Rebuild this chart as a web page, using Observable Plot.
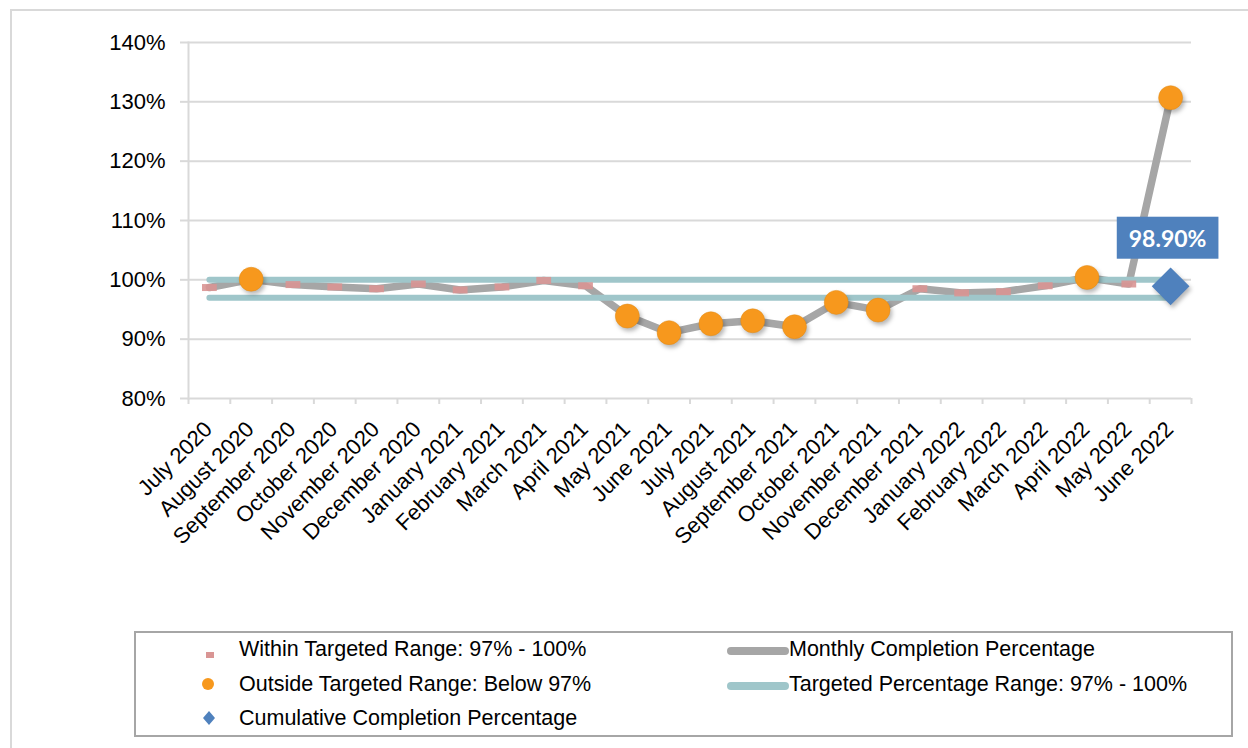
<!DOCTYPE html>
<html><head><meta charset="utf-8">
<script src="https://cdn.jsdelivr.net/npm/d3@7"></script>
<script src="https://cdn.jsdelivr.net/npm/@observablehq/plot@0.6"></script>
<style>
body{margin:0;background:#fff;font-family:"Liberation Sans",Arial,sans-serif;}
#wrap{position:relative;width:1248px;height:748px;overflow:hidden;background:#fff;}
#frame{position:absolute;left:10px;top:9px;width:1300px;height:800px;border:2px solid #d9d9d9;box-sizing:border-box;}
#chart{position:absolute;left:0;top:0;}
#legend{position:absolute;left:134px;top:631px;width:1099px;height:106px;border:2px solid #a6a6a6;box-sizing:border-box;}
.item{position:absolute;font-size:21.5px;color:#000;white-space:nowrap;line-height:24px;height:24px;}
.sw{position:absolute;}
</style></head><body>
<div id="wrap"><div id="frame"></div><div id="chart"></div><div id="legend"></div></div>
<script>
const months = ["July 2020","August 2020","September 2020","October 2020","November 2020","December 2020",
  "January 2021","February 2021","March 2021","April 2021","May 2021","June 2021","July 2021","August 2021",
  "September 2021","October 2021","November 2021","December 2021","January 2022","February 2022","March 2022",
  "April 2022","May 2022","June 2022"];
const monthly = [98.7,100.1,99.2,98.8,98.5,99.3,98.3,98.8,99.9,99.0,93.9,91.1,92.6,93.1,92.1,96.2,94.9,98.5,97.8,98.0,99.0,100.4,99.3,130.7];
const targetLow = 97;
const targetHigh = 100;
const cumulativeMonth = "June 2022";
const cumulativeValue = 98.9;
const cumulativeLabel = "98.90%";
const yTicks = [80,90,100,110,120,130,140];
const legendWithin = "Within Targeted Range: 97% - 100%";
const legendOutside = "Outside Targeted Range: Below 97%";
const legendCumulative = "Cumulative Completion Percentage";
const legendMonthly = "Monthly Completion Percentage";
const legendTarget = "Targeted Percentage Range: 97% - 100%";

const C = {gray:"#a6a6a6", teal:"#9fc6ca", pink:"#d99594", orange:"#f7981d", blue:"#4f81bd", grid:"#d9d9d9"};

const rows = months.map((m,i)=>({month:m, value:monthly[i]}));
const within = rows.filter(d=>d.value>=targetLow && d.value<=targetHigh);
const outside = rows.filter(d=>!(d.value>=targetLow && d.value<=targetHigh));
const targetRows = [targetLow, targetHigh].flatMap(t=>months.map(m=>({month:m, value:t, band:t})));
const cumulative = [{month:cumulativeMonth, value:cumulativeValue, label:cumulativeLabel}];

const W = 1248, H = 610, mL = 188, mR = 57, mT = 42, mB = 212;
const half = (W - mL - mR) / months.length / 2;

const plot = Plot.plot({
  width: W, height: H,
  marginLeft: mL, marginRight: mR, marginTop: mT, marginBottom: mB,
  style: {fontFamily: "'Liberation Sans', Arial, sans-serif", fontSize: "22px", color: "#000", background: "transparent"},
  x: {type: "band", domain: months, padding: 0, round: false, label: null},
  y: {domain: [80, 140], label: null},
  marks: [
    Plot.gridY(yTicks, {stroke: C.grid, strokeOpacity: 1, strokeWidth: 2}),
    Plot.frame({anchor: "left", stroke: C.grid, strokeWidth: 2}),
    Plot.axisY(yTicks, {tickSize: 8, tickPadding: 15, stroke: C.grid, strokeWidth: 2, fill: "#000", tickFormat: d => d + "%", label: null}),
    Plot.axisX({tickSize: 6, stroke: C.grid, strokeWidth: 2, tickFormat: () => "", dx: -half, label: null}),
    Plot.axisX([months[months.length-1]], {tickSize: 6, stroke: C.grid, strokeWidth: 2, tickFormat: () => "", dx: half, label: null}),
    Plot.axisX({tickSize: 0, tickRotate: -45, tickPadding: 27, fill: "#000", dx: -1, label: null}),
    Plot.line(rows, {x: "month", y: "value", stroke: C.gray, strokeWidth: 7.5, strokeLinecap: "round", strokeLinejoin: "round"}),
    Plot.line(targetRows, {x: "month", y: "value", z: "band", stroke: C.teal, strokeWidth: 6, strokeLinecap: "round"}),
    Plot.tickY(within, {x: "month", y: "value", stroke: C.pink, strokeWidth: 7, insetLeft: 14, insetRight: 13, strokeOpacity: 0.9}),
    Plot.dot(outside, {x: "month", y: "value", r: 12, fill: C.orange, stroke: "#e08a16", strokeWidth: 0.5}),
    Plot.dot(cumulative, {x: "month", y: "value", symbol: "diamond2", r: 17, fill: C.blue}),
    Plot.text(cumulative, {x: "month", y: "value", text: "label", dx: -3, dy: -47, fill: "#fff",
      fontFamily: "Lato, 'Open Sans', sans-serif", fontWeight: "bold", fontSize: 23})
  ]
});
document.getElementById("chart").appendChild(plot);

// shadows for markers
d3.select(plot).selectAll('g[aria-label="dot"]').style("filter", "drop-shadow(2px 3px 2px rgba(0,0,0,0.28))");

// label box behind data label
d3.select(plot).selectAll("text").filter(function(){ return this.textContent === cumulativeLabel; }).each(function(){
  const b = this.getBBox();
  const padX = 12, padY = 7;
  const r = document.createElementNS("http://www.w3.org/2000/svg", "rect");
  r.setAttribute("x", b.x - padX); r.setAttribute("y", b.y - padY);
  r.setAttribute("width", b.width + 2*padX); r.setAttribute("height", b.height + 2*padY);
  r.setAttribute("fill", C.blue);
  const t = this.getAttribute("transform"); if (t) r.setAttribute("transform", t);
  this.parentNode.insertBefore(r, this);
});

// legend
const wrap = document.getElementById("wrap");
function addItem(left, top, text){ const d = document.createElement("div"); d.className = "item"; d.style.left = left + "px"; d.style.top = top + "px"; d.textContent = text; wrap.appendChild(d); }
function addSwatch(left, top, w, h, svg){ const d = document.createElement("div"); d.className = "sw"; d.style.left = left + "px"; d.style.top = top + "px"; d.innerHTML = `<svg width="${w}" height="${h}">${svg}</svg>`; wrap.appendChild(d); }
const rowY = [649, 684, 718];
addSwatch(204, rowY[0]-4, 12, 8, `<rect x="2" y="1" width="8" height="6" fill="${C.pink}"/>`);
addSwatch(200, rowY[1]-8, 16, 16, `<circle cx="8" cy="8" r="6" fill="${C.orange}"/>`);
addSwatch(201, rowY[2]-8, 16, 16, `<path d="M8 1 L14 8 L8 15 L2 8 Z" fill="${C.blue}"/>`);
addSwatch(726, rowY[0]-6, 64, 12, `<line x1="5" y1="6" x2="59" y2="6" stroke="${C.gray}" stroke-width="8" stroke-linecap="round"/>`);
addSwatch(726, rowY[1]-6, 64, 12, `<line x1="5" y1="6" x2="59" y2="6" stroke="${C.teal}" stroke-width="8" stroke-linecap="round"/>`);
addItem(239, rowY[0]-12, legendWithin);
addItem(239, rowY[1]-12, legendOutside);
addItem(239, rowY[2]-12, legendCumulative);
addItem(789, rowY[0]-12, legendMonthly);
addItem(789, rowY[1]-12, legendTarget);
</script>
</body></html>
